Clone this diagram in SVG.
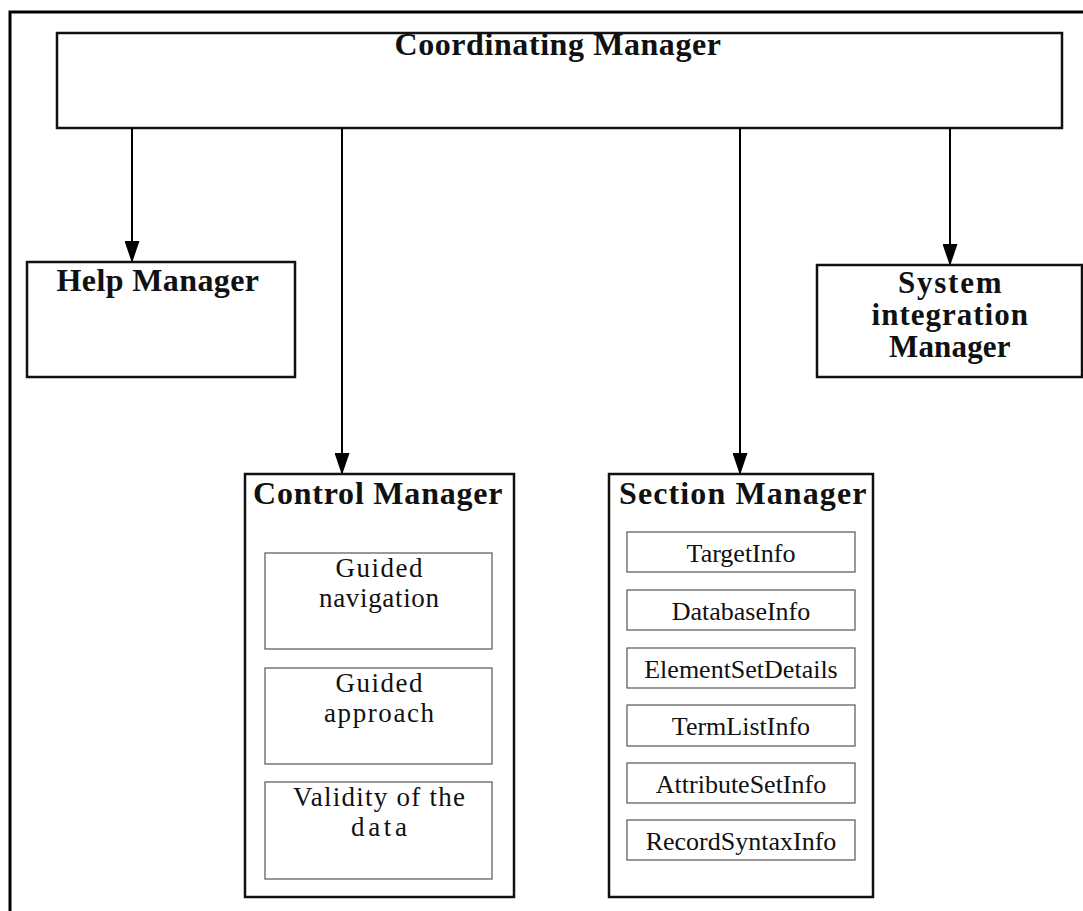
<svg xmlns="http://www.w3.org/2000/svg" width="1083" height="911" viewBox="0 0 1083 911">
<style>
.frame{fill:none;stroke:#000;stroke-width:3}
.box{fill:#fff;stroke:#111;stroke-width:2.5}
.inner{fill:#fff;stroke:#555;stroke-width:1.2}
.title{font-family:"Liberation Serif","Times New Roman",serif;font-weight:bold;font-size:32px;fill:#111;text-anchor:middle;letter-spacing:0.5px}
.sys{font-size:31px}
.item{font-family:"Liberation Serif","Times New Roman",serif;font-size:26px;fill:#111;text-anchor:middle}
.citem{font-size:27px}
.conn{stroke:#000;stroke-width:2;fill:none}
</style>
<defs>
<marker id="arr" markerUnits="userSpaceOnUse" markerWidth="22" markerHeight="15" refX="21" refY="7.5" orient="auto" viewBox="0 0 22 15">
<path d="M0,0 L22,7.5 L0,15 Z" fill="#000"/>
</marker>
</defs>
<rect width="1083" height="911" fill="#fff"/>
<rect class="frame" x="10" y="12" width="1090" height="920"/>
<g id="coordinating-manager">
<rect class="box" x="57" y="33" width="1005" height="95"/>
<text class="title" x="558" y="55" textLength="327" lengthAdjust="spacing">Coordinating Manager</text>
</g>
<g id="connectors">
<line class="conn" x1="132" y1="128" x2="132" y2="262" marker-end="url(#arr)"/>
<line class="conn" x1="342" y1="128" x2="342" y2="474" marker-end="url(#arr)"/>
<line class="conn" x1="740" y1="128" x2="740" y2="474" marker-end="url(#arr)"/>
<line class="conn" x1="950" y1="128" x2="950" y2="265" marker-end="url(#arr)"/>
</g>
<g id="help-manager">
<rect class="box" x="27" y="262" width="268" height="115"/>
<text class="title" x="158" y="291" textLength="203" lengthAdjust="spacing">Help Manager</text>
</g>
<g id="system-integration-manager">
<rect class="box" x="817" y="265" width="265" height="112"/>
<text class="title sys" x="950" y="293" textLength="104" lengthAdjust="spacing">System</text>
<text class="title sys" x="950" y="325" textLength="157" lengthAdjust="spacing">integration</text>
<text class="title sys" x="950" y="357" textLength="122" lengthAdjust="spacing">Manager</text>
</g>
<g id="control-manager">
<rect class="box" x="245" y="474" width="269" height="423"/>
<text class="title" x="378" y="504" textLength="250" lengthAdjust="spacing">Control Manager</text>
<g id="guided-navigation">
<rect class="inner" x="265" y="553" width="227" height="96"/>
<text class="item citem" x="379" y="577" textLength="87" lengthAdjust="spacing">Guided</text>
<text class="item citem" x="379" y="607" textLength="120" lengthAdjust="spacing">navigation</text>
</g>
<g id="guided-approach">
<rect class="inner" x="265" y="668" width="227" height="96"/>
<text class="item citem" x="379" y="692" textLength="87" lengthAdjust="spacing">Guided</text>
<text class="item citem" x="379" y="722" textLength="110" lengthAdjust="spacing">approach</text>
</g>
<g id="validity-of-the-data">
<rect class="inner" x="265" y="782" width="227" height="97"/>
<text class="item citem" x="379" y="806" textLength="172" lengthAdjust="spacing">Validity of the</text>
<text class="item citem" x="379" y="836" textLength="56" lengthAdjust="spacing">data</text>
</g>
</g>
<g id="section-manager">
<rect class="box" x="609" y="474" width="264" height="423"/>
<text class="title" x="743" y="504" textLength="248" lengthAdjust="spacing">Section Manager</text>
<g id="targetinfo">
<rect class="inner" x="627" y="532" width="228" height="40"/>
<text class="item" x="741" y="562">TargetInfo</text>
</g>
<g id="databaseinfo">
<rect class="inner" x="627" y="590" width="228" height="40"/>
<text class="item" x="741" y="620">DatabaseInfo</text>
</g>
<g id="elementsetdetails">
<rect class="inner" x="627" y="648" width="228" height="40"/>
<text class="item" x="741" y="678">ElementSetDetails</text>
</g>
<g id="termlistinfo">
<rect class="inner" x="627" y="705" width="228" height="41"/>
<text class="item" x="741" y="735">TermListInfo</text>
</g>
<g id="attributesetinfo">
<rect class="inner" x="627" y="763" width="228" height="40"/>
<text class="item" x="741" y="793">AttributeSetInfo</text>
</g>
<g id="recordsyntaxinfo">
<rect class="inner" x="627" y="820" width="228" height="40"/>
<text class="item" x="741" y="850">RecordSyntaxInfo</text>
</g>
</g>
</svg>
